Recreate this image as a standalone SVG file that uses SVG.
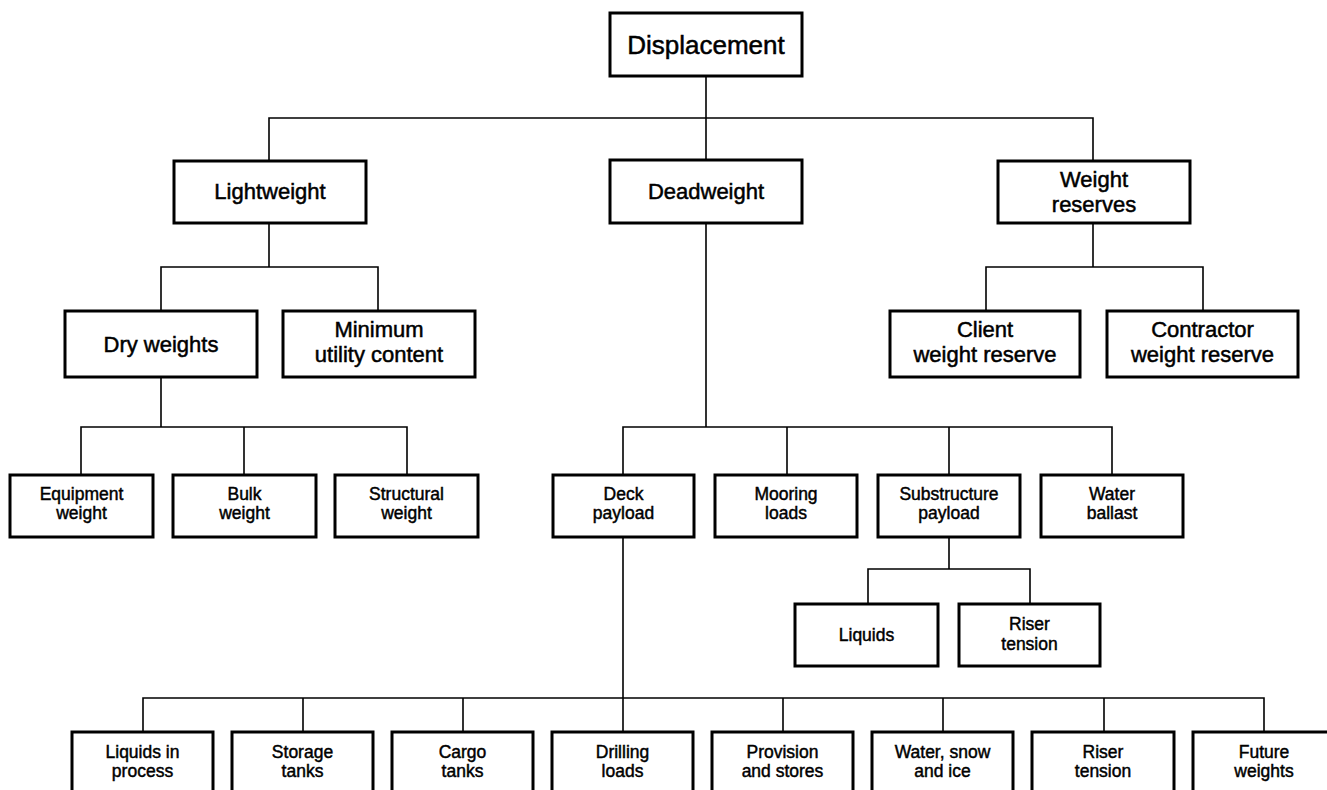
<svg xmlns="http://www.w3.org/2000/svg" width="1327" height="790" viewBox="0 0 1327 790">
<style>
.box{fill:#fff;stroke:#000;stroke-width:3}
.ln{fill:none;stroke:#000;stroke-width:1.6}
text{font-family:"Liberation Sans",Arial,sans-serif;fill:#000;stroke:#000;stroke-width:0.5;text-anchor:middle}
.t1{font-size:26px}
.t2{font-size:22px}
.t3{font-size:17.5px;stroke-width:0.45}
</style>
<rect width="1327" height="790" fill="#fff"/>
<g id="connectors">
<path class="ln" d="M706 76V161M269 161V118H1093V161"/>
<path class="ln" d="M269 223V267M161 311V267H378V311"/>
<path class="ln" d="M161 377V427M81 475V427H407V475M244 427V475"/>
<path class="ln" d="M706 223V427M623 475V427H1112V475M787 427V475M949 427V475"/>
<path class="ln" d="M949 537V569M868 604V569H1030V604"/>
<path class="ln" d="M623 537V732M143 732V698H1264V732M303 698V732M463 698V732M783 698V732M943 698V732M1104 698V732"/>
<path class="ln" d="M1093 223V267M986 311V267H1203V311"/>
</g>
<g id="displacement"><rect class="box" x="610" y="13" width="192" height="63"/><text class="t1" x="706" y="54">Displacement</text></g>
<g id="lightweight"><rect class="box" x="174" y="161" width="192" height="62"/><text class="t2" x="270" y="199">Lightweight</text></g>
<g id="deadweight"><rect class="box" x="610" y="160" width="192" height="63"/><text class="t2" x="706" y="199">Deadweight</text></g>
<g id="weight-reserves"><rect class="box" x="998" y="161" width="192" height="62"/><text class="t2" x="1094" y="187">Weight</text><text class="t2" x="1094" y="212">reserves</text></g>
<g id="dry-weights"><rect class="box" x="65" y="311" width="192" height="66"/><text class="t2" x="161" y="352">Dry weights</text></g>
<g id="minimum-utility"><rect class="box" x="283" y="311" width="192" height="66"/><text class="t2" x="379" y="337">Minimum</text><text class="t2" x="379" y="362">utility content</text></g>
<g id="client-reserve"><rect class="box" x="890" y="311" width="190" height="66"/><text class="t2" x="985" y="337">Client</text><text class="t2" x="985" y="362">weight reserve</text></g>
<g id="contractor-reserve"><rect class="box" x="1107" y="311" width="191" height="66"/><text class="t2" x="1202.5" y="337">Contractor</text><text class="t2" x="1202.5" y="362">weight reserve</text></g>
<g id="equipment-weight"><rect class="box" x="10" y="475" width="143" height="62"/><text class="t3" x="81.5" y="500">Equipment</text><text class="t3" x="81.5" y="519">weight</text></g>
<g id="bulk-weight"><rect class="box" x="173" y="475" width="143" height="62"/><text class="t3" x="244.5" y="500">Bulk</text><text class="t3" x="244.5" y="519">weight</text></g>
<g id="structural-weight"><rect class="box" x="335" y="475" width="143" height="62"/><text class="t3" x="406.5" y="500">Structural</text><text class="t3" x="406.5" y="519">weight</text></g>
<g id="deck-payload"><rect class="box" x="553" y="475" width="141" height="62"/><text class="t3" x="623.5" y="500">Deck</text><text class="t3" x="623.5" y="519">payload</text></g>
<g id="mooring-loads"><rect class="box" x="715" y="475" width="142" height="62"/><text class="t3" x="786" y="500">Mooring</text><text class="t3" x="786" y="519">loads</text></g>
<g id="substructure-payload"><rect class="box" x="878" y="475" width="142" height="62"/><text class="t3" x="949" y="500">Substructure</text><text class="t3" x="949" y="519">payload</text></g>
<g id="water-ballast"><rect class="box" x="1041" y="475" width="142" height="62"/><text class="t3" x="1112" y="500">Water</text><text class="t3" x="1112" y="519">ballast</text></g>
<g id="liquids"><rect class="box" x="795" y="604" width="143" height="62"/><text class="t3" x="866.5" y="641">Liquids</text></g>
<g id="riser-tension-sub"><rect class="box" x="959" y="604" width="141" height="62"/><text class="t3" x="1029.5" y="630">Riser</text><text class="t3" x="1029.5" y="650">tension</text></g>
<g id="liquids-in-process"><rect class="box" x="72" y="732" width="141" height="70"/><text class="t3" x="142.5" y="758">Liquids in</text><text class="t3" x="142.5" y="777">process</text></g>
<g id="storage-tanks"><rect class="box" x="232" y="732" width="141" height="70"/><text class="t3" x="302.5" y="758">Storage</text><text class="t3" x="302.5" y="777">tanks</text></g>
<g id="cargo-tanks"><rect class="box" x="392" y="732" width="141" height="70"/><text class="t3" x="462.5" y="758">Cargo</text><text class="t3" x="462.5" y="777">tanks</text></g>
<g id="drilling-loads"><rect class="box" x="552" y="732" width="141" height="70"/><text class="t3" x="622.5" y="758">Drilling</text><text class="t3" x="622.5" y="777">loads</text></g>
<g id="provision-stores"><rect class="box" x="712" y="732" width="141" height="70"/><text class="t3" x="782.5" y="758">Provision</text><text class="t3" x="782.5" y="777">and stores</text></g>
<g id="water-snow-ice"><rect class="box" x="872" y="732" width="141" height="70"/><text class="t3" x="942.5" y="758">Water, snow</text><text class="t3" x="942.5" y="777">and ice</text></g>
<g id="riser-tension"><rect class="box" x="1032" y="732" width="142" height="70"/><text class="t3" x="1103" y="758">Riser</text><text class="t3" x="1103" y="777">tension</text></g>
<g id="future-weights"><rect class="box" x="1193" y="732" width="142" height="70"/><text class="t3" x="1264" y="758">Future</text><text class="t3" x="1264" y="777">weights</text></g>
</svg>
